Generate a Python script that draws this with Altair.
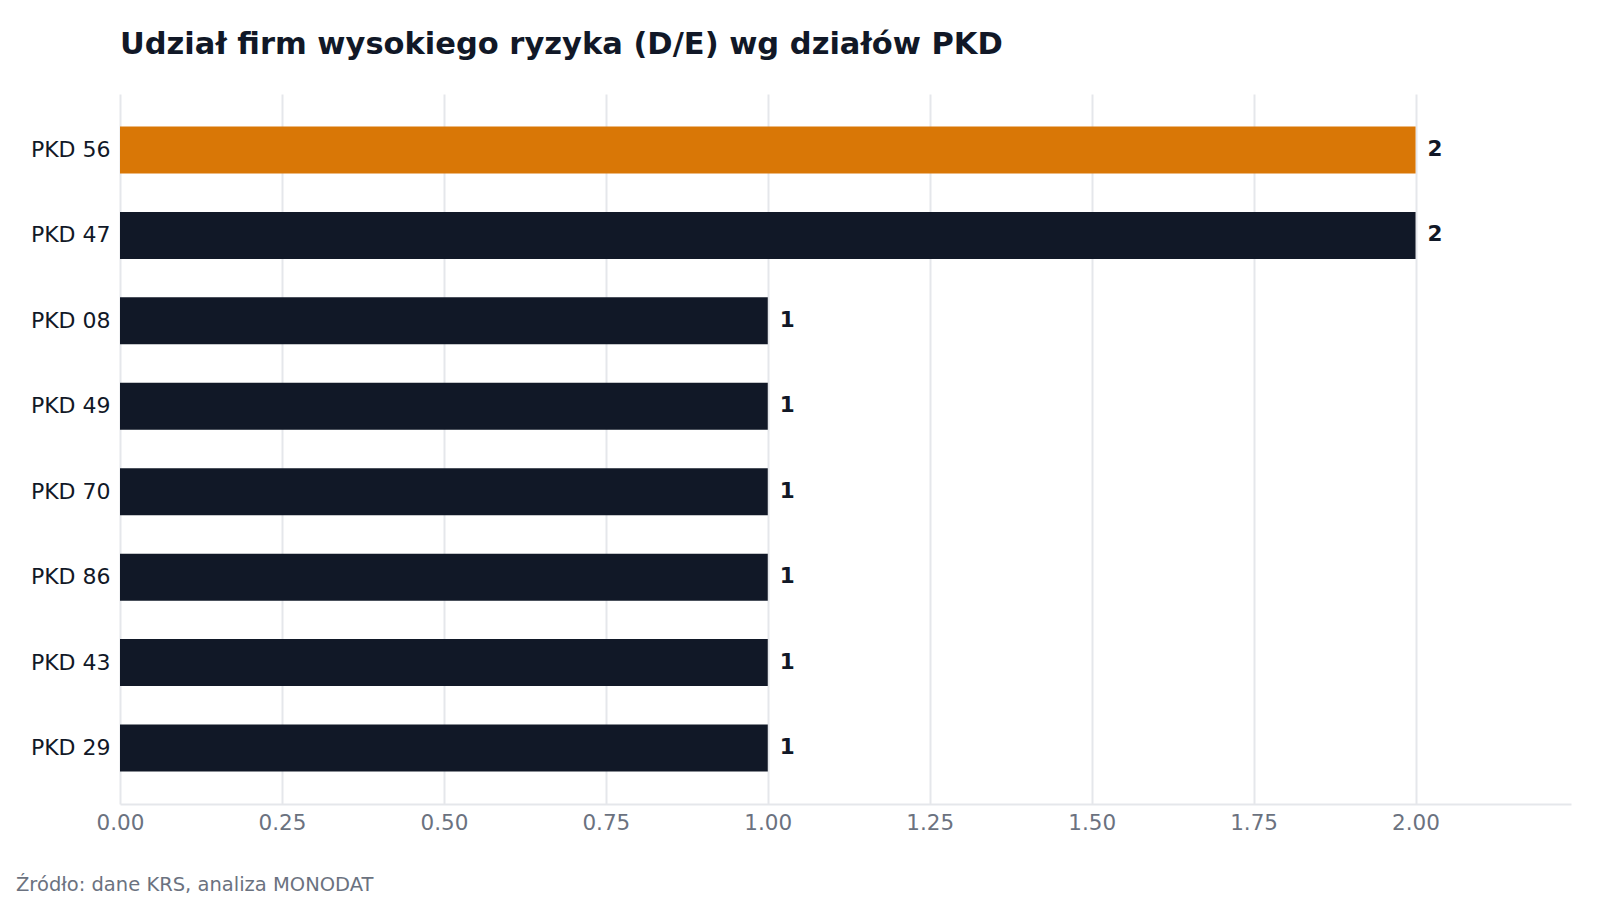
import altair as alt
import pandas as pd

# Dane z wykresu
dzialy = ["PKD 56", "PKD 47", "PKD 08", "PKD 49", "PKD 70", "PKD 86", "PKD 43", "PKD 29"]
liczba_firm = [2, 2, 1, 1, 1, 1, 1, 1]
wyroznione = ["PKD 56"]

df = pd.DataFrame({"dzial": dzialy, "firmy": liczba_firm})
df["wyrozniony"] = df["dzial"].isin(wyroznione)

FONT = "DejaVu Sans"
W, H = 1451, 710

base = alt.Chart(df).encode(
    y=alt.Y(
        "dzial:N",
        sort=dzialy,
        title=None,
        scale=alt.Scale(paddingInner=0.45, paddingOuter=0.38),
        axis=alt.Axis(ticks=False, domain=False, labelPadding=10, labelFontSize=22,
                      labelColor="#111827", labelFont=FONT, grid=False),
    ),
)

bars = base.mark_bar().encode(
    x=alt.X(
        "firmy:Q",
        title=None,
        scale=alt.Scale(domain=[0, 2.24], nice=False),
        axis=alt.Axis(values=[0, 0.25, 0.5, 0.75, 1.0, 1.25, 1.5, 1.75, 2.0], format=".2f",
                      ticks=False, labelPadding=8, labelFontSize=21.5, labelColor="#6b7280",
                      labelFont=FONT, labelFlush=False, domainColor="#e5e7eb", domainWidth=2,
                      gridColor="#e5e7eb", gridWidth=2),
    ),
    color=alt.condition(alt.datum.wyrozniony, alt.value("#d97706"), alt.value("#111827")),
)

labels = base.mark_text(align="left", baseline="middle", dx=12, fontSize=21.5,
                        fontWeight="bold", font=FONT, color="#111827").encode(
    x="firmy:Q",
    text=alt.Text("firmy:Q", format="d"),
)

source = alt.Chart(pd.DataFrame({"t": ["Źródło: dane KRS, analiza MONODAT"]})).mark_text(
    align="left", baseline="alphabetic", fontSize=19.5, font=FONT, color="#6b7280"
).encode(
    x=alt.value(-104),
    y=alt.value(H + 87),
    text="t:N",
)

chart = (bars + labels + source).properties(
    width=W,
    height=H,
    title=alt.TitleParams(
        "Udział firm wysokiego ryzyka (D/E) wg działów PKD",
        anchor="start", frame="group", fontSize=30.5,
        fontWeight="bold", font=FONT, color="#111827", offset=34,
    ),
    autosize=alt.AutoSizeParams(type="none"),
    padding={"left": 112, "top": 86, "right": 21, "bottom": 100},
).configure(background="white").configure_view(strokeWidth=0, stroke="transparent")

chart.save("out.html", embed_options={"renderer": "svg", "actions": False})
